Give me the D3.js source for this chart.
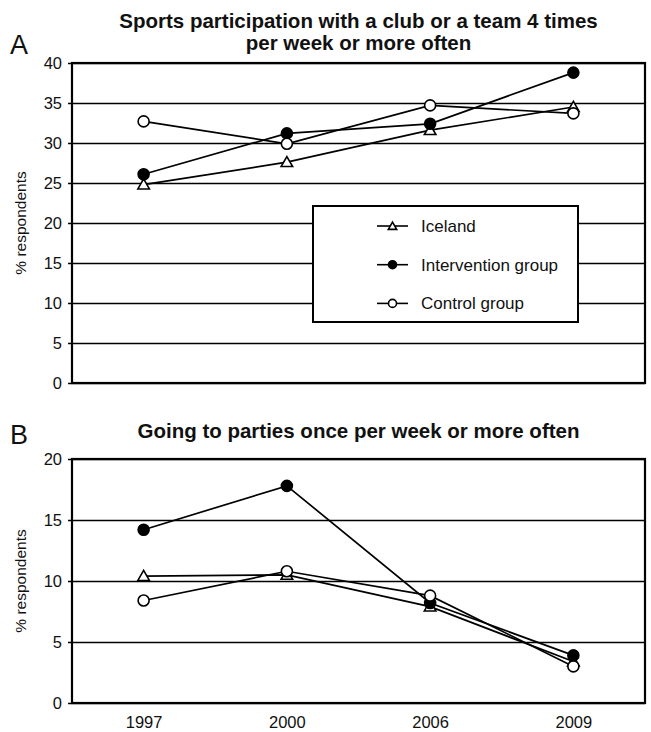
<!DOCTYPE html>
<html><head><meta charset="utf-8">
<script src="https://cdn.jsdelivr.net/npm/d3@7/dist/d3.min.js"></script>
<style>body{margin:0;background:#fff}svg{display:block}text{font-family:"Liberation Sans",Arial,Helvetica,sans-serif}</style>
</head><body>
<script>
const years = ["1997","2000","2006","2009"];
const seriesNames = ["Iceland","Intervention group","Control group"];
const seriesSymbols = ["triangle","filled","open"];
// Panel A: sports participation
const sportsIceland = [24.8, 27.6, 31.6, 34.5];
const sportsIntervention = [26.1, 31.2, 32.4, 38.8];
const sportsControl = [32.7, 29.9, 34.7, 33.7];
const sportsTicks = [0,5,10,15,20,25,30,35,40];
// Panel B: parties
const partyIceland = [10.4, 10.5, 7.9, 3.4];
const partyIntervention = [14.2, 17.8, 8.2, 3.9];
const partyControl = [8.4, 10.8, 8.8, 3.0];
const partyTicks = [0,5,10,15,20];

const W = 651, H = 732;
const svg = d3.select("body").append("svg").attr("width", W).attr("height", H);

function drawMarker(g, type, x, y, s) {
  if (type === "triangle") {
    g.append("path").attr("d", d3.symbol(d3.symbolTriangle, s * s * 1.9)()).attr("transform", `translate(${x},${y+1})`)
      .attr("fill", "#fff").attr("stroke", "#000").attr("stroke-width", 1.6);
  } else {
    g.append("circle").attr("cx", x).attr("cy", y).attr("r", s)
      .attr("fill", type === "filled" ? "#000" : "#fff").attr("stroke", "#000").attr("stroke-width", 1.6);
  }
}

function panel(opts) {
  const {top, bottom, left, right, max, ticks, data, title, titleLines, letter, letterY, showX, legend} = opts;
  const g = svg.append("g");
  const x = d3.scalePoint().domain(years).range([left, right]).padding(0.5);
  const y = d3.scaleLinear().domain([0, max]).range([bottom, top]);
  g.append("g").attr("transform", `translate(${left},0)`)
    .call(d3.axisLeft(y).tickValues(ticks).tickSize(-(right-left)).tickPadding(10).tickFormat(d3.format("d")))
    .call(a => a.select(".domain").remove())
    .call(a => a.selectAll(".tick line").attr("stroke", "#000").attr("stroke-width", 1.6).attr("x1", -4))
    .call(a => a.selectAll(".tick text").attr("font-size", 16.5).attr("fill", "#111"));
  g.append("rect").attr("x", left).attr("y", top).attr("width", right-left).attr("height", bottom-top)
    .attr("fill", "none").attr("stroke", "#000").attr("stroke-width", 2.2);
  if (showX) {
    g.append("g").attr("transform", `translate(0,${bottom})`)
      .call(d3.axisBottom(x).tickSize(0).tickPadding(13))
      .call(a => a.select(".domain").remove())
      .call(a => a.selectAll(".tick text").attr("font-size", 16.5).attr("fill", "#111"));
  }
  if (legend) {
    const lg = g.append("g");
    lg.append("rect").attr("x", legend.x).attr("y", legend.y).attr("width", legend.w).attr("height", legend.h)
      .attr("fill", "#fff").attr("stroke", "#000").attr("stroke-width", 2);
    seriesNames.forEach((n, i) => {
      const yy = legend.y + 20 + i * 38.7;
      lg.append("line").attr("x1", legend.x + 64).attr("x2", legend.x + 95).attr("y1", yy).attr("y2", yy)
        .attr("stroke", "#000").attr("stroke-width", 1.6);
      drawMarker(lg, seriesSymbols[i], legend.x + 79.5, yy, 4);
      lg.append("text").attr("x", legend.x + 108).attr("y", yy + 6).attr("font-size", 17).attr("fill", "#111").text(n);
    });
  }
  const line = d3.line().x((d, i) => x(years[i])).y(d => y(d));
  data.forEach(vals => {
    g.append("path").attr("d", line(vals)).attr("fill", "none").attr("stroke", "#000").attr("stroke-width", 1.7);
  });
  data.forEach((vals, si) => {
    vals.forEach((v, i) => drawMarker(g, seriesSymbols[si], x(years[i]), y(v), 5.5));
  });
  const cx = (left + right) / 2;
  titleLines.forEach((t, i) => {
    g.append("text").attr("x", cx).attr("y", title + i * 22).attr("text-anchor", "middle")
      .attr("font-size", 20.5).attr("font-weight", "bold").attr("fill", "#111").text(t);
  });
  g.append("text").attr("x", 10).attr("y", letterY).attr("font-size", 27).attr("fill", "#111").text(letter);
  g.append("text").attr("transform", `translate(26,${(top+bottom)/2}) rotate(-90)`)
    .attr("text-anchor", "middle").attr("font-size", 15.5).attr("fill", "#111").text("% respondents");
}

panel({top: 63, bottom: 383, left: 72, right: 645, max: 40, ticks: sportsTicks,
  data: [sportsIceland, sportsIntervention, sportsControl],
  title: 28, titleLines: ["Sports participation with a club or a team 4 times", "per week or more often"],
  letter: "A", letterY: 54, showX: false,
  legend: {x: 313, y: 206, w: 265, h: 116}});

panel({top: 459, bottom: 703, left: 72, right: 645, max: 20, ticks: partyTicks,
  data: [partyIceland, partyIntervention, partyControl],
  title: 438, titleLines: ["Going to parties once per week or more often"],
  letter: "B", letterY: 444, showX: true, legend: null});
</script>
</body></html>
